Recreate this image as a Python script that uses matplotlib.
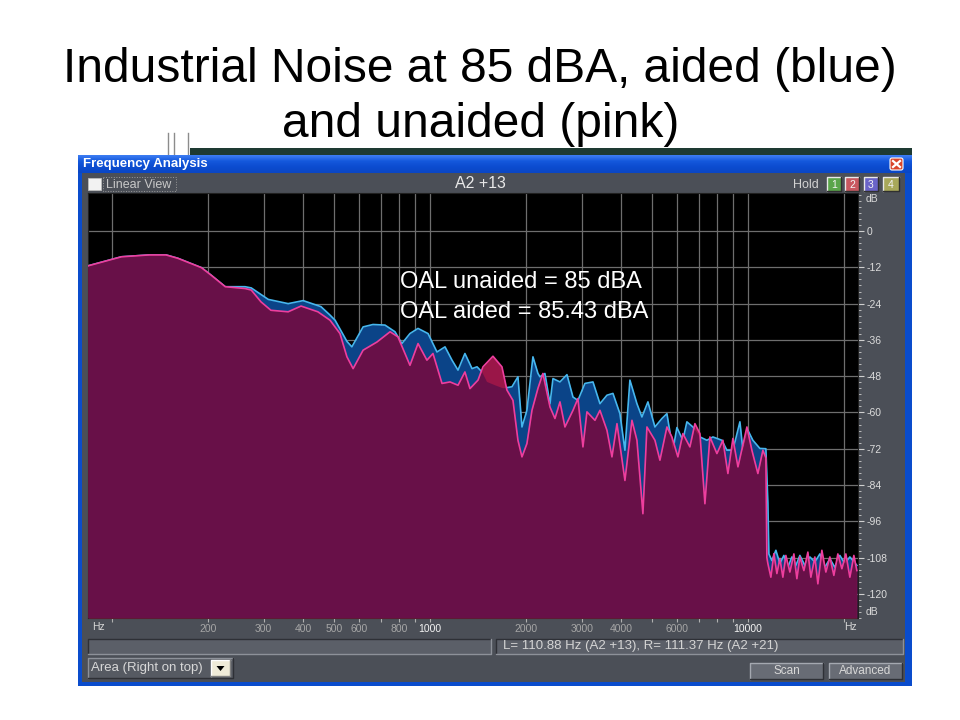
import numpy as np
import matplotlib
matplotlib.use('Agg')
import matplotlib.pyplot as plt
from matplotlib.patches import Rectangle, FancyBboxPatch, Polygon
from matplotlib.ticker import FixedLocator, FixedFormatter, MultipleLocator
from matplotlib.colors import LinearSegmentedColormap

plt.rcParams['font.family'] = ['Liberation Sans', 'DejaVu Sans']

# ---------------- texts ----------------
title_line1 = "Industrial Noise at 85 dBA, aided (blue)"
title_line2 = "and unaided (pink)"
window_title = "Frequency Analysis"
channel_label = "A2 +13"
status_text = "L= 110.88 Hz (A2 +13), R= 111.37 Hz (A2 +21)"
oal_lines = ["OAL unaided = 85 dBA", "OAL aided = 85.43 dBA"]
hold_labels = ["1", "2", "3", "4"]

# ---------------- axes ticks ----------------
freq_ticks = [100, 200, 300, 400, 500, 600, 700, 800, 900, 1000,
              2000, 3000, 4000, 5000, 6000, 7000, 8000, 9000, 10000, 20000]
freq_tick_labels = ['', '200', '300', '400', '500', '600', '', '800', '', '1000',
                    '2000', '3000', '4000', '', '6000', '', '', '', '10000', '']
db_ticks = [0, -12, -24, -36, -48, -60, -72, -84, -96, -108, -120]
db_tick_labels = ['0', '-12', '-24', '-36', '-48', '-60', '-72', '-84', '-96', '-108', '-120']

# ---------------- data ----------------
unaided_hz = [84, 107, 130, 148, 161, 191, 205, 227, 262, 274, 294, 316, 358, 393, 444,
              485, 521, 548, 573, 616, 681, 749, 793, 865, 917, 978, 1022, 1091, 1156,
              1225, 1288, 1336, 1416, 1468, 1578, 1684, 1746, 1824, 1891, 1947, 2018,
              2093, 2186, 2266, 2385, 2472, 2564, 2658, 2817, 2920, 3028, 3117, 3303,
              3425, 3603, 3736, 3874, 4104, 4318, 4477, 4675, 4813, 5100, 5288, 5563,
              5768, 6023, 6245, 6570, 6813, 7065, 7325, 7595, 7990, 8345, 8652, 8971,
              9305, 9929, 10294, 10750, 11147, 11392, 11474, 11558, 11811, 12072,
              12337, 12607, 12884, 13167, 13555, 13954, 14259, 14571, 15000, 15441,
              15780, 16244, 16600, 17089, 17590, 18108, 18638, 19185, 19751, 20331,
              20930, 21544, 22018]
unaided_db = [-11.5, -8.5, -7.9, -7.9, -9.0, -12.1, -14.6, -18.4, -19.0, -19.5, -23.4,
              -26.2, -26.7, -24.8, -26.7, -29.5, -33.9, -41.6, -45.5, -39.4, -36.7,
              -33.3, -35.0, -44.4, -37.2, -42.7, -40.5, -50.4, -49.9, -51.0, -46.6,
              -52.1, -49.3, -44.9, -41.4, -44.9, -52.6, -56.0, -69.2, -74.7, -70.3,
              -59.3, -52.0, -47.1, -58.2, -62.0, -56.5, -64.8, -59.3, -55.4, -71.4,
              -59.8, -62.6, -59.3, -65.9, -74.7, -63.7, -82.5, -62.6, -69.2, -93.5,
              -64.8, -69.2, -75.8, -64.8, -68.1, -74.7, -67.0, -71.4, -63.7, -67.0,
              -90.2, -68.1, -73.6, -69.2, -80.2, -68.6, -78.0, -64.8, -72.5, -80.2,
              -72.5, -75.0, -108.0, -110.0, -114.5, -106.7, -113.3, -108.3, -114.5,
              -107.3, -112.8, -106.8, -115.0, -107.8, -112.3, -106.2, -114.5, -107.8,
              -116.7, -105.6, -112.8, -107.8, -113.9, -106.8, -111.7, -106.8, -114.5,
              -107.3, -112.3]

aided_hz = [84, 107, 130, 148, 161, 191, 205, 227, 262, 274, 310, 358, 399, 454, 485,
            503, 548, 568, 616, 662, 722, 776, 816, 865, 917, 986, 1052, 1115, 1173,
            1225, 1288, 1356, 1406, 1458, 1511, 1601, 1697, 1811, 1891, 1947, 2018,
            2108, 2186, 2218, 2299, 2385, 2437, 2564, 2697, 2817, 2920, 3072, 3256,
            3425, 3603, 3763, 3958, 4104, 4255, 4477, 4642, 4848, 5100, 5366, 5563,
            5810, 5980, 6245, 6429, 6714, 7065, 7433, 7762, 8284, 8590, 8971, 9439,
            9645, 10000, 10368, 10907, 11392, 11558, 11641, 11898, 12248, 12607,
            12977, 13359, 13753, 14156, 14571, 15108, 15667, 16244, 16843, 17463,
            18108, 18774, 19466, 20184, 20930, 22018]
aided_db = [-11.5, -8.5, -7.9, -7.9, -9.0, -12.1, -14.6, -18.4, -18.4, -18.8, -22.6,
            -24.0, -23.0, -25.0, -27.8, -29.5, -36.5, -38.3, -31.7, -30.9, -31.1,
            -33.3, -37.2, -33.9, -32.2, -33.9, -40.0, -38.3, -42.7, -46.0, -40.5,
            -45.5, -44.9, -46.6, -49.9, -51.0, -52.0, -51.5, -48.2, -64.8, -59.3,
            -41.6, -47.1, -48.2, -47.1, -57.1, -48.8, -49.9, -47.5, -54.9, -56.0,
            -50.4, -49.9, -57.1, -54.3, -53.7, -60.4, -72.5, -49.3, -57.1, -61.5,
            -56.5, -64.8, -62.0, -60.4, -72.5, -65.0, -69.2, -63.1, -64.8, -68.1,
            -69.2, -68.1, -69.2, -72.5, -72.5, -63.1, -72.5, -65.9, -69.2, -71.9,
            -72.0, -90.0, -106.8, -109.0, -105.6, -110.0, -107.3, -111.2, -107.8,
            -110.6, -107.3, -110.6, -107.8, -109.5, -106.8, -111.2, -108.4, -111.2,
            -107.3, -110.0, -107.8, -110.6]

# ---------------- colours ----------------
C_PURPLE = '#681048'
C_RED = '#9a1648'
C_BLUE = '#0b4488'
C_LBLUE = '#46b6ee'
C_PINK = '#ee3e9e'
C_CLIENT = '#4b4f57'
C_BOX = '#5b5f68'

W, H = 960, 720
fig = plt.figure(figsize=(9.6, 7.2), dpi=100)
fig.patch.set_facecolor('white')


def px_rect(x0, y0, x1, y1):
    return [x0 / W, 1 - y1 / H, (x1 - x0) / W, (y1 - y0) / H]


bg = fig.add_axes([0, 0, 1, 1])
bg.set_xlim(0, W)
bg.set_ylim(H, 0)
bg.axis('off')


def box(x0, y0, x1, y1, fc, ec='none', lw=0, z=1, ls='-'):
    bg.add_patch(Rectangle((x0, y0), x1 - x0, y1 - y0, facecolor=fc,
                           edgecolor=ec, linewidth=lw, zorder=z, linestyle=ls))


def bevel(x0, y0, x1, y1, fc, light, dark, z=2):
    box(x0, y0, x1, y1, fc, z=z)
    bg.plot([x0, x0, x1], [y1, y0, y0], color=light, lw=1, zorder=z + 0.1)
    bg.plot([x0, x1, x1], [y1, y1, y0], color=dark, lw=1, zorder=z + 0.1)


def txt(x, y, s, **kw):
    fig.text(x / W, 1 - y / H, s, **kw)


# slide titles
txt(480, 82, title_line1, ha='center', va='baseline', fontsize=34.5, color='black')
txt(481, 137, title_line2, ha='center', va='baseline', fontsize=34.5, color='black')

# background window remnants
box(190, 148, 912, 155, '#1e3a32')
for xv in (168, 174, 188):
    bg.plot([xv, xv], [133, 155], color='#8c8c8c', lw=1, zorder=1)

# window frame + title bar
box(78, 155, 912, 686, '#0a4ccc')
grad = np.linspace(0, 1, 20).reshape(-1, 1)
cm_title = LinearSegmentedColormap.from_list('tb', ['#3c7cf2', '#1458dc', '#0c4cd0', '#0a46c4'])
bg.imshow(grad, cmap=cm_title, extent=[78, 912, 173, 155], aspect='auto', zorder=1.5)
bg.set_xlim(0, W)
bg.set_ylim(H, 0)
box(82, 173, 905, 682, C_CLIENT, z=2)
txt(83, 164.5, window_title, ha='left', va='center', fontsize=9.5, weight='bold', color='white')

# close button
bg.add_patch(FancyBboxPatch((890, 158), 13, 12, boxstyle='round,pad=0,rounding_size=2',
                            facecolor='#d9452a', edgecolor='white', lw=0.8, zorder=3))
bg.plot([893, 900], [161, 167], color='white', lw=1.6, zorder=4)
bg.plot([893, 900], [167, 161], color='white', lw=1.6, zorder=4)

# header row
box(88, 178, 101, 190, '#f2f2f2', ec='#bdbdbd', lw=0.6, z=3)
box(103, 177, 176, 191, 'none', ec='#9a9a9a', lw=0.7, z=3, ls=':')
txt(106, 184.5, "Linear View", ha='left', va='center', fontsize=9, color='#c8c8c8')
txt(480, 184, channel_label, ha='center', va='center', fontsize=11.5, color='#e8e8e8')
txt(806, 184.5, "Hold", ha='center', va='center', fontsize=9, color='#d2d2d2')
hold_x = [(827, 841), (845, 859), (864, 878), (883, 899)]
hold_c = ['#5aa54a', '#c85860', '#6a64c8', '#a8a85a']
for (x0, x1), c, lab in zip(hold_x, hold_c, hold_labels):
    bevel(x0, 177, x1, 191, c, '#e8e8e8', '#303030', z=3)
    txt((x0 + x1) / 2, 184.5, lab, ha='center', va='center', fontsize=7.5, color='#f4f4f4')

# right and bottom axis strips
txt(866, 199, "dB", ha='left', va='center', fontsize=7.5, color='#d8d8d8')
txt(866, 612, "dB", ha='left', va='center', fontsize=7.5, color='#d8d8d8')
txt(92, 627.5, "Hz", ha='left', va='center', fontsize=7.5, color='#d8d8d8')
txt(850, 627.5, "Hz", ha='center', va='center', fontsize=7.5, color='#d8d8d8')

# status row
bevel(88, 639, 491, 654, C_BOX, '#2e3036', '#8d9199', z=3)
bevel(496, 639, 903, 654, C_BOX, '#2e3036', '#8d9199', z=3)
txt(503, 646.5, status_text, ha='left', va='center', fontsize=9.5, color='#d4d4d4')

# bottom row
bevel(88, 658, 233, 678, '#565a62', '#8d9199', '#2e3036', z=3)
txt(91, 668.5, "Area (Right on top)", ha='left', va='center', fontsize=9.5, color='#d8d8d8')
bevel(211, 660, 230, 676, '#efebd8', '#ffffff', '#808080', z=4)
bg.add_patch(Polygon([[216.5, 666], [224.5, 666], [220.5, 671]], closed=True,
                     facecolor='black', edgecolor='none', zorder=5))
bevel(750, 663, 823, 679, '#686c75', '#a4a8b0', '#2e3036', z=3)
txt(786.5, 671.5, "Scan", ha='center', va='center', fontsize=8.5, color='#d8d8d8')
bevel(829, 663, 902, 679, '#686c75', '#a4a8b0', '#2e3036', z=3)
txt(865.5, 671.5, "Advanced", ha='center', va='center', fontsize=8.5, color='#d8d8d8')

# ---------------- spectrum axes ----------------
YMIN, YMAX = -128, 12.6
ax = fig.add_axes(px_rect(88, 193, 858, 618))
ax.set_facecolor('black')
ax.set_xscale('log')
ax.set_xlim(84, 22200)
ax.set_ylim(YMIN, YMAX)

ax.xaxis.set_major_locator(FixedLocator(freq_ticks))
ax.xaxis.set_major_formatter(FixedFormatter(freq_tick_labels))
ax.xaxis.set_minor_locator(FixedLocator([]))
ax.yaxis.set_major_locator(FixedLocator(db_ticks))
ax.yaxis.set_major_formatter(FixedFormatter(db_tick_labels))
ax.yaxis.set_minor_locator(MultipleLocator(2))
ax.yaxis.tick_right()
ax.tick_params(axis='x', which='major', direction='out', length=3, width=0.8,
               color='#b0b0b0', pad=1.5, labelsize=7.5, labelcolor='#a6a6a6')
ax.tick_params(axis='y', which='major', direction='out', length=4, width=0.8,
               color='#d0d0d0', pad=2, labelsize=7.5, labelcolor='#dcdcdc')
ax.tick_params(axis='y', which='minor', direction='out', length=2, width=0.7,
               color='#bcbcbc')
for lab, s in zip(ax.get_xticklabels(), freq_tick_labels):
    if s in ('1000', '10000'):
        lab.set_color('#f4f4f4')
for sp in ax.spines.values():
    sp.set_color('#202020')
    sp.set_linewidth(0.8)

for f in freq_ticks:
    ax.axvline(f, color='#6e6e6e', lw=0.9, zorder=1)
for d in db_ticks:
    ax.axhline(d, color='#6e6e6e', lw=0.9, zorder=1)

fa = ax.fill_between(aided_hz, aided_db, YMIN, color=C_BLUE, lw=0, zorder=2)
ax.plot(aided_hz, aided_db, color=C_LBLUE, lw=1.2, zorder=3)
ax.fill_between(unaided_hz, unaided_db, YMIN, color=C_RED, lw=0, zorder=4)
fo = ax.fill_between(unaided_hz, unaided_db, YMIN, color=C_PURPLE, lw=0, zorder=5)
fo.set_clip_path(fa.get_paths()[0], ax.transData)
ax.plot(unaided_hz, unaided_db, color=C_PINK, lw=1.2, zorder=6)

# OAL annotations
txt(400, 288, oal_lines[0], ha='left', va='baseline', fontsize=17, color='white')
txt(400, 318, oal_lines[1], ha='left', va='baseline', fontsize=17, color='white')

fig.savefig('out.png', dpi=100, facecolor='white')
